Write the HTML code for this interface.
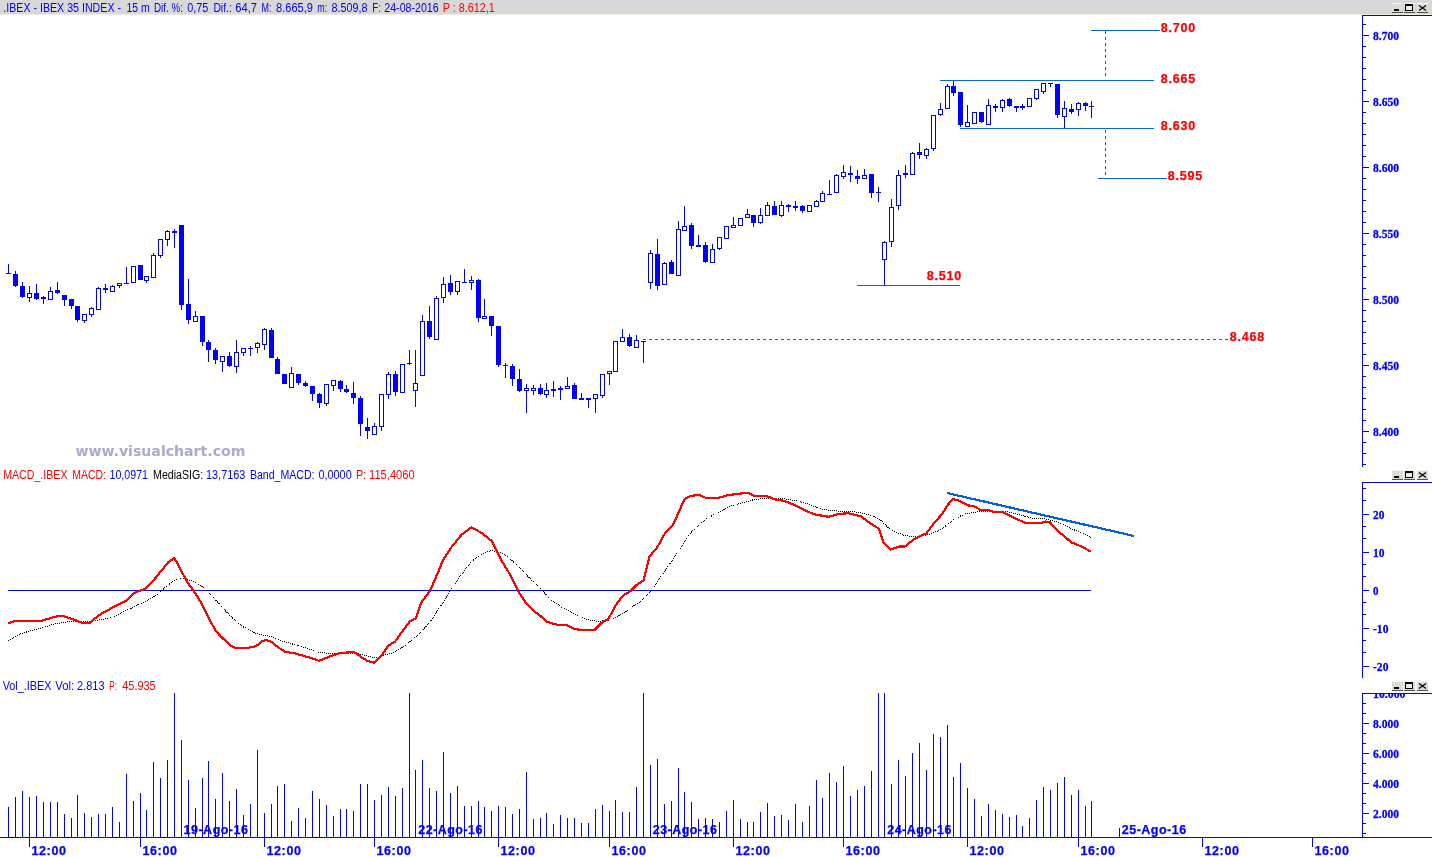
<!DOCTYPE html>
<html><head><meta charset="utf-8"><title>IBEX 35 chart</title>
<style>
html,body{margin:0;padding:0;background:#fff;overflow:hidden}
svg{display:block}
text{white-space:pre}
.s{font:12px "Liberation Sans",Arial,sans-serif}
.a{font:bold 13.5px "Liberation Serif","Times New Roman",serif;fill:#0000ff;stroke:#0000ff;stroke-width:.3px}
.b{font:bold 12.5px "Liberation Sans",Arial,sans-serif;fill:#0000ff;stroke:#0000ff;stroke-width:.25px}
.r{font:bold 12.5px "Liberation Sans",Arial,sans-serif;fill:#ff0000;stroke:#ff0000;stroke-width:.25px}
.w{font:bold 14px "DejaVu Sans",Verdana,sans-serif;fill:#a9a9d1}
</style></head><body>
<svg width="1432" height="857" viewBox="0 0 1432 857">
<defs><clipPath id="cv"><rect x="1363" y="694" width="69" height="20"/></clipPath></defs>
<rect width="1432" height="857" fill="#fff"/>
<g shape-rendering="crispEdges">
<rect x="0" y="0" width="1432" height="14" fill="#d8d8d8"/>
<rect x="0" y="14" width="1432" height="1" fill="#ececdf"/>
<rect x="1392" y="3" width="11" height="10" fill="#dcdcd6"/>
<rect x="1392" y="3" width="11" height="1" fill="#f4f4f0"/>
<rect x="1392" y="12" width="11" height="1" fill="#505050"/>
<rect x="1404" y="3" width="11" height="10" fill="#dcdcd6"/>
<rect x="1404" y="3" width="11" height="1" fill="#f4f4f0"/>
<rect x="1404" y="12" width="11" height="1" fill="#505050"/>
<rect x="1417" y="3" width="11" height="10" fill="#dcdcd6"/>
<rect x="1417" y="3" width="11" height="1" fill="#f4f4f0"/>
<rect x="1417" y="12" width="11" height="1" fill="#505050"/>
<rect x="1394" y="9" width="5" height="2" fill="#000"/>
<rect x="1405" y="4" width="8" height="7" fill="#000"/>
<rect x="1406" y="6" width="6" height="4" fill="#ecece6"/>
<path d="M1419 5.5 L1426 10.5 M1426 5.5 L1419 10.5" stroke="#000" stroke-width="1.2" fill="none" shape-rendering="geometricPrecision"/>
<rect x="1392" y="470" width="11" height="10" fill="#dcdcd6"/>
<rect x="1392" y="470" width="11" height="1" fill="#f4f4f0"/>
<rect x="1392" y="479" width="11" height="1" fill="#505050"/>
<rect x="1404" y="470" width="11" height="10" fill="#dcdcd6"/>
<rect x="1404" y="470" width="11" height="1" fill="#f4f4f0"/>
<rect x="1404" y="479" width="11" height="1" fill="#505050"/>
<rect x="1417" y="470" width="11" height="10" fill="#dcdcd6"/>
<rect x="1417" y="470" width="11" height="1" fill="#f4f4f0"/>
<rect x="1417" y="479" width="11" height="1" fill="#505050"/>
<rect x="1394" y="476" width="5" height="2" fill="#000"/>
<rect x="1405" y="471" width="8" height="7" fill="#000"/>
<rect x="1406" y="473" width="6" height="4" fill="#ecece6"/>
<path d="M1419 472.5 L1426 477.5 M1426 472.5 L1419 477.5" stroke="#000" stroke-width="1.2" fill="none" shape-rendering="geometricPrecision"/>
<rect x="1392" y="681" width="11" height="10" fill="#dcdcd6"/>
<rect x="1392" y="681" width="11" height="1" fill="#f4f4f0"/>
<rect x="1392" y="690" width="11" height="1" fill="#505050"/>
<rect x="1404" y="681" width="11" height="10" fill="#dcdcd6"/>
<rect x="1404" y="681" width="11" height="1" fill="#f4f4f0"/>
<rect x="1404" y="690" width="11" height="1" fill="#505050"/>
<rect x="1417" y="681" width="11" height="10" fill="#dcdcd6"/>
<rect x="1417" y="681" width="11" height="1" fill="#f4f4f0"/>
<rect x="1417" y="690" width="11" height="1" fill="#505050"/>
<rect x="1394" y="687" width="5" height="2" fill="#000"/>
<rect x="1405" y="682" width="8" height="7" fill="#000"/>
<rect x="1406" y="684" width="6" height="4" fill="#ecece6"/>
<path d="M1419 683.5 L1426 688.5 M1426 683.5 L1419 688.5" stroke="#000" stroke-width="1.2" fill="none" shape-rendering="geometricPrecision"/>
<rect x="1362" y="15" width="70" height="1" fill="#0000ff"/>
<rect x="1362" y="15" width="1" height="452" fill="#0000ff"/>
<rect x="1363" y="24" width="3" height="1" fill="#0000ff"/>
<rect x="1363" y="35" width="6" height="1" fill="#0000ff"/>
<rect x="1363" y="46" width="3" height="1" fill="#0000ff"/>
<rect x="1363" y="57" width="3" height="1" fill="#0000ff"/>
<rect x="1363" y="68" width="3" height="1" fill="#0000ff"/>
<rect x="1363" y="79" width="3" height="1" fill="#0000ff"/>
<rect x="1363" y="90" width="3" height="1" fill="#0000ff"/>
<rect x="1363" y="101" width="6" height="1" fill="#0000ff"/>
<rect x="1363" y="112" width="3" height="1" fill="#0000ff"/>
<rect x="1363" y="123" width="3" height="1" fill="#0000ff"/>
<rect x="1363" y="134" width="3" height="1" fill="#0000ff"/>
<rect x="1363" y="145" width="3" height="1" fill="#0000ff"/>
<rect x="1363" y="156" width="3" height="1" fill="#0000ff"/>
<rect x="1363" y="167" width="6" height="1" fill="#0000ff"/>
<rect x="1363" y="178" width="3" height="1" fill="#0000ff"/>
<rect x="1363" y="189" width="3" height="1" fill="#0000ff"/>
<rect x="1363" y="200" width="3" height="1" fill="#0000ff"/>
<rect x="1363" y="211" width="3" height="1" fill="#0000ff"/>
<rect x="1363" y="222" width="3" height="1" fill="#0000ff"/>
<rect x="1363" y="233" width="6" height="1" fill="#0000ff"/>
<rect x="1363" y="244" width="3" height="1" fill="#0000ff"/>
<rect x="1363" y="255" width="3" height="1" fill="#0000ff"/>
<rect x="1363" y="266" width="3" height="1" fill="#0000ff"/>
<rect x="1363" y="277" width="3" height="1" fill="#0000ff"/>
<rect x="1363" y="288" width="3" height="1" fill="#0000ff"/>
<rect x="1363" y="299" width="6" height="1" fill="#0000ff"/>
<rect x="1363" y="310" width="3" height="1" fill="#0000ff"/>
<rect x="1363" y="321" width="3" height="1" fill="#0000ff"/>
<rect x="1363" y="332" width="3" height="1" fill="#0000ff"/>
<rect x="1363" y="343" width="3" height="1" fill="#0000ff"/>
<rect x="1363" y="354" width="3" height="1" fill="#0000ff"/>
<rect x="1363" y="365" width="6" height="1" fill="#0000ff"/>
<rect x="1363" y="376" width="3" height="1" fill="#0000ff"/>
<rect x="1363" y="387" width="3" height="1" fill="#0000ff"/>
<rect x="1363" y="398" width="3" height="1" fill="#0000ff"/>
<rect x="1363" y="409" width="3" height="1" fill="#0000ff"/>
<rect x="1363" y="420" width="3" height="1" fill="#0000ff"/>
<rect x="1363" y="431" width="6" height="1" fill="#0000ff"/>
<rect x="1363" y="442" width="3" height="1" fill="#0000ff"/>
<rect x="1363" y="453" width="3" height="1" fill="#0000ff"/>
<rect x="1363" y="464" width="3" height="1" fill="#0000ff"/>
<rect x="1362" y="482" width="70" height="1" fill="#0000ff"/>
<rect x="1362" y="482" width="1" height="196" fill="#0000ff"/>
<rect x="1363" y="488" width="3" height="1" fill="#0000ff"/>
<rect x="1363" y="500" width="3" height="1" fill="#0000ff"/>
<rect x="1363" y="514" width="6" height="1" fill="#0000ff"/>
<rect x="1363" y="526" width="3" height="1" fill="#0000ff"/>
<rect x="1363" y="538" width="3" height="1" fill="#0000ff"/>
<rect x="1363" y="552" width="6" height="1" fill="#0000ff"/>
<rect x="1363" y="564" width="3" height="1" fill="#0000ff"/>
<rect x="1363" y="576" width="3" height="1" fill="#0000ff"/>
<rect x="1363" y="590" width="6" height="1" fill="#0000ff"/>
<rect x="1363" y="602" width="3" height="1" fill="#0000ff"/>
<rect x="1363" y="614" width="3" height="1" fill="#0000ff"/>
<rect x="1363" y="628" width="6" height="1" fill="#0000ff"/>
<rect x="1363" y="640" width="3" height="1" fill="#0000ff"/>
<rect x="1363" y="652" width="3" height="1" fill="#0000ff"/>
<rect x="1363" y="666" width="6" height="1" fill="#0000ff"/>
<rect x="1362" y="693" width="70" height="1" fill="#0000ff"/>
<rect x="1362" y="693" width="1" height="145" fill="#0000ff"/>
<rect x="1363" y="703" width="3" height="1" fill="#0000ff"/>
<rect x="1363" y="713" width="3" height="1" fill="#0000ff"/>
<rect x="1363" y="723" width="6" height="1" fill="#0000ff"/>
<rect x="1363" y="733" width="3" height="1" fill="#0000ff"/>
<rect x="1363" y="743" width="3" height="1" fill="#0000ff"/>
<rect x="1363" y="753" width="6" height="1" fill="#0000ff"/>
<rect x="1363" y="763" width="3" height="1" fill="#0000ff"/>
<rect x="1363" y="773" width="3" height="1" fill="#0000ff"/>
<rect x="1363" y="783" width="6" height="1" fill="#0000ff"/>
<rect x="1363" y="793" width="3" height="1" fill="#0000ff"/>
<rect x="1363" y="803" width="3" height="1" fill="#0000ff"/>
<rect x="1363" y="813" width="6" height="1" fill="#0000ff"/>
<rect x="1363" y="823" width="3" height="1" fill="#0000ff"/>
<rect x="1363" y="833" width="3" height="1" fill="#0000ff"/>
<rect x="1363" y="693" width="6" height="1" fill="#0000ff"/>
<rect x="0" y="837" width="1432" height="1" fill="#0000ff"/>
<rect x="29" y="838" width="1" height="9" fill="#0000ff"/>
<rect x="140" y="838" width="1" height="9" fill="#0000ff"/>
<rect x="264" y="838" width="1" height="9" fill="#0000ff"/>
<rect x="374" y="838" width="1" height="9" fill="#0000ff"/>
<rect x="498" y="838" width="1" height="9" fill="#0000ff"/>
<rect x="609" y="838" width="1" height="9" fill="#0000ff"/>
<rect x="733" y="838" width="1" height="9" fill="#0000ff"/>
<rect x="843" y="838" width="1" height="9" fill="#0000ff"/>
<rect x="967" y="838" width="1" height="9" fill="#0000ff"/>
<rect x="1078" y="838" width="1" height="9" fill="#0000ff"/>
<rect x="1202" y="838" width="1" height="9" fill="#0000ff"/>
<rect x="1312" y="838" width="1" height="9" fill="#0000ff"/>
<rect x="1119" y="828" width="1" height="9" fill="#0000ff"/>
<rect x="8" y="807" width="1" height="30" fill="#0000ff"/>
<rect x="15" y="797" width="1" height="40" fill="#0000ff"/>
<rect x="22" y="791" width="1" height="46" fill="#0000ff"/>
<rect x="29" y="797" width="1" height="40" fill="#0000ff"/>
<rect x="36" y="796" width="1" height="41" fill="#0000ff"/>
<rect x="43" y="802" width="1" height="35" fill="#0000ff"/>
<rect x="50" y="802" width="1" height="35" fill="#0000ff"/>
<rect x="57" y="802" width="1" height="35" fill="#0000ff"/>
<rect x="64" y="814" width="1" height="23" fill="#0000ff"/>
<rect x="71" y="818" width="1" height="19" fill="#0000ff"/>
<rect x="77" y="795" width="1" height="42" fill="#0000ff"/>
<rect x="84" y="813" width="1" height="24" fill="#0000ff"/>
<rect x="91" y="817" width="1" height="20" fill="#0000ff"/>
<rect x="98" y="814" width="1" height="23" fill="#0000ff"/>
<rect x="105" y="814" width="1" height="23" fill="#0000ff"/>
<rect x="112" y="807" width="1" height="30" fill="#0000ff"/>
<rect x="119" y="822" width="1" height="15" fill="#0000ff"/>
<rect x="126" y="774" width="1" height="63" fill="#0000ff"/>
<rect x="133" y="801" width="1" height="36" fill="#0000ff"/>
<rect x="140" y="793" width="1" height="44" fill="#0000ff"/>
<rect x="146" y="810" width="1" height="27" fill="#0000ff"/>
<rect x="153" y="762" width="1" height="75" fill="#0000ff"/>
<rect x="160" y="778" width="1" height="59" fill="#0000ff"/>
<rect x="167" y="760" width="1" height="77" fill="#0000ff"/>
<rect x="174" y="693" width="1" height="144" fill="#0000ff"/>
<rect x="181" y="740" width="1" height="97" fill="#0000ff"/>
<rect x="188" y="780" width="1" height="57" fill="#0000ff"/>
<rect x="195" y="808" width="1" height="29" fill="#0000ff"/>
<rect x="202" y="778" width="1" height="59" fill="#0000ff"/>
<rect x="208" y="761" width="1" height="76" fill="#0000ff"/>
<rect x="215" y="799" width="1" height="38" fill="#0000ff"/>
<rect x="222" y="773" width="1" height="64" fill="#0000ff"/>
<rect x="229" y="801" width="1" height="36" fill="#0000ff"/>
<rect x="236" y="789" width="1" height="48" fill="#0000ff"/>
<rect x="243" y="815" width="1" height="22" fill="#0000ff"/>
<rect x="250" y="804" width="1" height="33" fill="#0000ff"/>
<rect x="257" y="750" width="1" height="87" fill="#0000ff"/>
<rect x="264" y="813" width="1" height="24" fill="#0000ff"/>
<rect x="271" y="804" width="1" height="33" fill="#0000ff"/>
<rect x="277" y="786" width="1" height="51" fill="#0000ff"/>
<rect x="284" y="784" width="1" height="53" fill="#0000ff"/>
<rect x="291" y="821" width="1" height="16" fill="#0000ff"/>
<rect x="298" y="808" width="1" height="29" fill="#0000ff"/>
<rect x="305" y="818" width="1" height="19" fill="#0000ff"/>
<rect x="312" y="791" width="1" height="46" fill="#0000ff"/>
<rect x="319" y="799" width="1" height="38" fill="#0000ff"/>
<rect x="326" y="805" width="1" height="32" fill="#0000ff"/>
<rect x="333" y="816" width="1" height="21" fill="#0000ff"/>
<rect x="340" y="809" width="1" height="28" fill="#0000ff"/>
<rect x="346" y="809" width="1" height="28" fill="#0000ff"/>
<rect x="353" y="811" width="1" height="26" fill="#0000ff"/>
<rect x="360" y="784" width="1" height="53" fill="#0000ff"/>
<rect x="367" y="784" width="1" height="53" fill="#0000ff"/>
<rect x="374" y="800" width="1" height="37" fill="#0000ff"/>
<rect x="381" y="795" width="1" height="42" fill="#0000ff"/>
<rect x="388" y="787" width="1" height="50" fill="#0000ff"/>
<rect x="395" y="796" width="1" height="41" fill="#0000ff"/>
<rect x="402" y="788" width="1" height="49" fill="#0000ff"/>
<rect x="409" y="693" width="1" height="144" fill="#0000ff"/>
<rect x="415" y="770" width="1" height="67" fill="#0000ff"/>
<rect x="422" y="760" width="1" height="77" fill="#0000ff"/>
<rect x="429" y="788" width="1" height="49" fill="#0000ff"/>
<rect x="436" y="791" width="1" height="46" fill="#0000ff"/>
<rect x="443" y="752" width="1" height="85" fill="#0000ff"/>
<rect x="450" y="793" width="1" height="44" fill="#0000ff"/>
<rect x="457" y="786" width="1" height="51" fill="#0000ff"/>
<rect x="464" y="806" width="1" height="31" fill="#0000ff"/>
<rect x="471" y="806" width="1" height="31" fill="#0000ff"/>
<rect x="478" y="801" width="1" height="36" fill="#0000ff"/>
<rect x="484" y="807" width="1" height="30" fill="#0000ff"/>
<rect x="491" y="811" width="1" height="26" fill="#0000ff"/>
<rect x="498" y="806" width="1" height="31" fill="#0000ff"/>
<rect x="505" y="807" width="1" height="30" fill="#0000ff"/>
<rect x="512" y="814" width="1" height="23" fill="#0000ff"/>
<rect x="519" y="809" width="1" height="28" fill="#0000ff"/>
<rect x="526" y="772" width="1" height="65" fill="#0000ff"/>
<rect x="533" y="819" width="1" height="18" fill="#0000ff"/>
<rect x="540" y="818" width="1" height="19" fill="#0000ff"/>
<rect x="546" y="813" width="1" height="24" fill="#0000ff"/>
<rect x="553" y="824" width="1" height="13" fill="#0000ff"/>
<rect x="560" y="815" width="1" height="22" fill="#0000ff"/>
<rect x="567" y="818" width="1" height="19" fill="#0000ff"/>
<rect x="574" y="818" width="1" height="19" fill="#0000ff"/>
<rect x="581" y="823" width="1" height="14" fill="#0000ff"/>
<rect x="588" y="823" width="1" height="14" fill="#0000ff"/>
<rect x="595" y="809" width="1" height="28" fill="#0000ff"/>
<rect x="602" y="805" width="1" height="32" fill="#0000ff"/>
<rect x="609" y="811" width="1" height="26" fill="#0000ff"/>
<rect x="615" y="800" width="1" height="37" fill="#0000ff"/>
<rect x="622" y="812" width="1" height="25" fill="#0000ff"/>
<rect x="629" y="812" width="1" height="25" fill="#0000ff"/>
<rect x="636" y="787" width="1" height="50" fill="#0000ff"/>
<rect x="643" y="693" width="1" height="144" fill="#0000ff"/>
<rect x="650" y="765" width="1" height="72" fill="#0000ff"/>
<rect x="657" y="759" width="1" height="78" fill="#0000ff"/>
<rect x="664" y="804" width="1" height="33" fill="#0000ff"/>
<rect x="671" y="801" width="1" height="36" fill="#0000ff"/>
<rect x="678" y="768" width="1" height="69" fill="#0000ff"/>
<rect x="684" y="792" width="1" height="45" fill="#0000ff"/>
<rect x="691" y="802" width="1" height="35" fill="#0000ff"/>
<rect x="698" y="819" width="1" height="18" fill="#0000ff"/>
<rect x="705" y="818" width="1" height="19" fill="#0000ff"/>
<rect x="712" y="819" width="1" height="18" fill="#0000ff"/>
<rect x="719" y="822" width="1" height="15" fill="#0000ff"/>
<rect x="726" y="811" width="1" height="26" fill="#0000ff"/>
<rect x="733" y="800" width="1" height="37" fill="#0000ff"/>
<rect x="740" y="819" width="1" height="18" fill="#0000ff"/>
<rect x="747" y="822" width="1" height="15" fill="#0000ff"/>
<rect x="753" y="822" width="1" height="15" fill="#0000ff"/>
<rect x="760" y="812" width="1" height="25" fill="#0000ff"/>
<rect x="767" y="803" width="1" height="34" fill="#0000ff"/>
<rect x="774" y="816" width="1" height="21" fill="#0000ff"/>
<rect x="781" y="815" width="1" height="22" fill="#0000ff"/>
<rect x="788" y="820" width="1" height="17" fill="#0000ff"/>
<rect x="795" y="804" width="1" height="33" fill="#0000ff"/>
<rect x="802" y="822" width="1" height="15" fill="#0000ff"/>
<rect x="809" y="806" width="1" height="31" fill="#0000ff"/>
<rect x="816" y="780" width="1" height="57" fill="#0000ff"/>
<rect x="822" y="798" width="1" height="39" fill="#0000ff"/>
<rect x="829" y="773" width="1" height="64" fill="#0000ff"/>
<rect x="836" y="782" width="1" height="55" fill="#0000ff"/>
<rect x="843" y="766" width="1" height="71" fill="#0000ff"/>
<rect x="850" y="796" width="1" height="41" fill="#0000ff"/>
<rect x="857" y="790" width="1" height="47" fill="#0000ff"/>
<rect x="864" y="786" width="1" height="51" fill="#0000ff"/>
<rect x="871" y="771" width="1" height="66" fill="#0000ff"/>
<rect x="878" y="693" width="1" height="144" fill="#0000ff"/>
<rect x="884" y="693" width="1" height="144" fill="#0000ff"/>
<rect x="891" y="784" width="1" height="53" fill="#0000ff"/>
<rect x="898" y="760" width="1" height="77" fill="#0000ff"/>
<rect x="905" y="776" width="1" height="61" fill="#0000ff"/>
<rect x="912" y="753" width="1" height="84" fill="#0000ff"/>
<rect x="919" y="743" width="1" height="94" fill="#0000ff"/>
<rect x="926" y="770" width="1" height="67" fill="#0000ff"/>
<rect x="933" y="734" width="1" height="103" fill="#0000ff"/>
<rect x="940" y="737" width="1" height="100" fill="#0000ff"/>
<rect x="947" y="725" width="1" height="112" fill="#0000ff"/>
<rect x="953" y="777" width="1" height="60" fill="#0000ff"/>
<rect x="960" y="763" width="1" height="74" fill="#0000ff"/>
<rect x="967" y="788" width="1" height="49" fill="#0000ff"/>
<rect x="974" y="799" width="1" height="38" fill="#0000ff"/>
<rect x="981" y="816" width="1" height="21" fill="#0000ff"/>
<rect x="988" y="804" width="1" height="33" fill="#0000ff"/>
<rect x="995" y="810" width="1" height="27" fill="#0000ff"/>
<rect x="1002" y="814" width="1" height="23" fill="#0000ff"/>
<rect x="1009" y="817" width="1" height="20" fill="#0000ff"/>
<rect x="1016" y="815" width="1" height="22" fill="#0000ff"/>
<rect x="1022" y="826" width="1" height="11" fill="#0000ff"/>
<rect x="1029" y="818" width="1" height="19" fill="#0000ff"/>
<rect x="1036" y="800" width="1" height="37" fill="#0000ff"/>
<rect x="1043" y="787" width="1" height="50" fill="#0000ff"/>
<rect x="1050" y="790" width="1" height="47" fill="#0000ff"/>
<rect x="1057" y="783" width="1" height="54" fill="#0000ff"/>
<rect x="1064" y="777" width="1" height="60" fill="#0000ff"/>
<rect x="1071" y="795" width="1" height="42" fill="#0000ff"/>
<rect x="1078" y="790" width="1" height="47" fill="#0000ff"/>
<rect x="1085" y="806" width="1" height="31" fill="#0000ff"/>
<rect x="1091" y="801" width="1" height="36" fill="#0000ff"/>
<rect x="6" y="273" width="5" height="1" fill="#0000ff"/>
<rect x="8" y="264" width="1" height="9" fill="#0000ff"/>
<rect x="13" y="274" width="5" height="12" fill="#0000ff"/>
<rect x="15" y="271" width="1" height="3" fill="#0000ff"/>
<rect x="15" y="286" width="1" height="1" fill="#0000ff"/>
<rect x="20" y="286" width="5" height="11" fill="#0000ff"/>
<rect x="22" y="282" width="1" height="4" fill="#0000ff"/>
<rect x="22" y="297" width="1" height="1" fill="#0000ff"/>
<rect x="27" y="293" width="5" height="5" fill="#0000ff"/>
<rect x="28" y="294" width="3" height="3" fill="#fff"/>
<rect x="29" y="286" width="1" height="7" fill="#0000ff"/>
<rect x="29" y="298" width="1" height="4" fill="#0000ff"/>
<rect x="34" y="293" width="5" height="6" fill="#0000ff"/>
<rect x="36" y="284" width="1" height="9" fill="#0000ff"/>
<rect x="36" y="299" width="1" height="1" fill="#0000ff"/>
<rect x="41" y="297" width="5" height="2" fill="#0000ff"/>
<rect x="43" y="296" width="1" height="1" fill="#0000ff"/>
<rect x="43" y="299" width="1" height="5" fill="#0000ff"/>
<rect x="48" y="291" width="5" height="9" fill="#0000ff"/>
<rect x="49" y="292" width="3" height="7" fill="#fff"/>
<rect x="50" y="287" width="1" height="4" fill="#0000ff"/>
<rect x="55" y="290" width="5" height="3" fill="#0000ff"/>
<rect x="57" y="282" width="1" height="8" fill="#0000ff"/>
<rect x="57" y="293" width="1" height="1" fill="#0000ff"/>
<rect x="62" y="295" width="5" height="5" fill="#0000ff"/>
<rect x="64" y="300" width="1" height="6" fill="#0000ff"/>
<rect x="69" y="299" width="5" height="7" fill="#0000ff"/>
<rect x="71" y="306" width="1" height="3" fill="#0000ff"/>
<rect x="75" y="306" width="5" height="14" fill="#0000ff"/>
<rect x="77" y="320" width="1" height="2" fill="#0000ff"/>
<rect x="82" y="314" width="5" height="7" fill="#0000ff"/>
<rect x="83" y="315" width="3" height="5" fill="#fff"/>
<rect x="84" y="321" width="1" height="2" fill="#0000ff"/>
<rect x="89" y="308" width="5" height="7" fill="#0000ff"/>
<rect x="90" y="309" width="3" height="5" fill="#fff"/>
<rect x="91" y="307" width="1" height="1" fill="#0000ff"/>
<rect x="91" y="315" width="1" height="2" fill="#0000ff"/>
<rect x="96" y="288" width="5" height="22" fill="#0000ff"/>
<rect x="97" y="289" width="3" height="20" fill="#fff"/>
<rect x="98" y="287" width="1" height="1" fill="#0000ff"/>
<rect x="103" y="288" width="5" height="2" fill="#0000ff"/>
<rect x="105" y="284" width="1" height="4" fill="#0000ff"/>
<rect x="105" y="290" width="1" height="3" fill="#0000ff"/>
<rect x="110" y="286" width="5" height="6" fill="#0000ff"/>
<rect x="111" y="287" width="3" height="4" fill="#fff"/>
<rect x="112" y="285" width="1" height="1" fill="#0000ff"/>
<rect x="117" y="283" width="5" height="3" fill="#0000ff"/>
<rect x="118" y="284" width="3" height="1" fill="#fff"/>
<rect x="119" y="286" width="1" height="2" fill="#0000ff"/>
<rect x="124" y="283" width="5" height="1" fill="#0000ff"/>
<rect x="126" y="267" width="1" height="16" fill="#0000ff"/>
<rect x="131" y="266" width="5" height="17" fill="#0000ff"/>
<rect x="132" y="267" width="3" height="15" fill="#fff"/>
<rect x="138" y="265" width="5" height="15" fill="#0000ff"/>
<rect x="144" y="276" width="5" height="5" fill="#0000ff"/>
<rect x="145" y="277" width="3" height="3" fill="#fff"/>
<rect x="146" y="281" width="1" height="2" fill="#0000ff"/>
<rect x="151" y="255" width="5" height="23" fill="#0000ff"/>
<rect x="152" y="256" width="3" height="21" fill="#fff"/>
<rect x="153" y="253" width="1" height="2" fill="#0000ff"/>
<rect x="158" y="239" width="5" height="17" fill="#0000ff"/>
<rect x="159" y="240" width="3" height="15" fill="#fff"/>
<rect x="160" y="256" width="1" height="2" fill="#0000ff"/>
<rect x="165" y="231" width="5" height="9" fill="#0000ff"/>
<rect x="166" y="232" width="3" height="7" fill="#fff"/>
<rect x="167" y="230" width="1" height="1" fill="#0000ff"/>
<rect x="167" y="240" width="1" height="6" fill="#0000ff"/>
<rect x="172" y="231" width="5" height="2" fill="#0000ff"/>
<rect x="174" y="229" width="1" height="2" fill="#0000ff"/>
<rect x="174" y="233" width="1" height="15" fill="#0000ff"/>
<rect x="179" y="225" width="5" height="80" fill="#0000ff"/>
<rect x="181" y="305" width="1" height="5" fill="#0000ff"/>
<rect x="186" y="304" width="5" height="16" fill="#0000ff"/>
<rect x="188" y="279" width="1" height="25" fill="#0000ff"/>
<rect x="188" y="320" width="1" height="4" fill="#0000ff"/>
<rect x="193" y="316" width="5" height="6" fill="#0000ff"/>
<rect x="194" y="317" width="3" height="4" fill="#fff"/>
<rect x="195" y="311" width="1" height="5" fill="#0000ff"/>
<rect x="200" y="316" width="5" height="26" fill="#0000ff"/>
<rect x="202" y="342" width="1" height="4" fill="#0000ff"/>
<rect x="206" y="342" width="5" height="8" fill="#0000ff"/>
<rect x="208" y="340" width="1" height="2" fill="#0000ff"/>
<rect x="208" y="350" width="1" height="12" fill="#0000ff"/>
<rect x="213" y="350" width="5" height="10" fill="#0000ff"/>
<rect x="215" y="348" width="1" height="2" fill="#0000ff"/>
<rect x="215" y="360" width="1" height="4" fill="#0000ff"/>
<rect x="220" y="356" width="5" height="6" fill="#0000ff"/>
<rect x="221" y="357" width="3" height="4" fill="#fff"/>
<rect x="222" y="362" width="1" height="10" fill="#0000ff"/>
<rect x="227" y="356" width="5" height="10" fill="#0000ff"/>
<rect x="229" y="352" width="1" height="4" fill="#0000ff"/>
<rect x="229" y="366" width="1" height="1" fill="#0000ff"/>
<rect x="234" y="352" width="5" height="15" fill="#0000ff"/>
<rect x="235" y="353" width="3" height="13" fill="#fff"/>
<rect x="236" y="340" width="1" height="12" fill="#0000ff"/>
<rect x="236" y="367" width="1" height="6" fill="#0000ff"/>
<rect x="241" y="348" width="5" height="5" fill="#0000ff"/>
<rect x="242" y="349" width="3" height="3" fill="#fff"/>
<rect x="243" y="353" width="1" height="3" fill="#0000ff"/>
<rect x="248" y="348" width="5" height="1" fill="#0000ff"/>
<rect x="250" y="346" width="1" height="2" fill="#0000ff"/>
<rect x="250" y="349" width="1" height="7" fill="#0000ff"/>
<rect x="255" y="343" width="5" height="5" fill="#0000ff"/>
<rect x="256" y="344" width="3" height="3" fill="#fff"/>
<rect x="257" y="342" width="1" height="1" fill="#0000ff"/>
<rect x="257" y="348" width="1" height="5" fill="#0000ff"/>
<rect x="262" y="329" width="5" height="16" fill="#0000ff"/>
<rect x="263" y="330" width="3" height="14" fill="#fff"/>
<rect x="264" y="328" width="1" height="1" fill="#0000ff"/>
<rect x="264" y="345" width="1" height="5" fill="#0000ff"/>
<rect x="269" y="330" width="5" height="28" fill="#0000ff"/>
<rect x="271" y="328" width="1" height="2" fill="#0000ff"/>
<rect x="275" y="359" width="5" height="15" fill="#0000ff"/>
<rect x="277" y="357" width="1" height="2" fill="#0000ff"/>
<rect x="282" y="374" width="5" height="10" fill="#0000ff"/>
<rect x="289" y="373" width="5" height="15" fill="#0000ff"/>
<rect x="290" y="374" width="3" height="13" fill="#fff"/>
<rect x="291" y="367" width="1" height="6" fill="#0000ff"/>
<rect x="296" y="374" width="5" height="9" fill="#0000ff"/>
<rect x="298" y="383" width="1" height="2" fill="#0000ff"/>
<rect x="303" y="383" width="5" height="3" fill="#0000ff"/>
<rect x="305" y="381" width="1" height="2" fill="#0000ff"/>
<rect x="305" y="386" width="1" height="1" fill="#0000ff"/>
<rect x="310" y="386" width="5" height="8" fill="#0000ff"/>
<rect x="312" y="394" width="1" height="7" fill="#0000ff"/>
<rect x="317" y="394" width="5" height="9" fill="#0000ff"/>
<rect x="319" y="393" width="1" height="1" fill="#0000ff"/>
<rect x="319" y="403" width="1" height="5" fill="#0000ff"/>
<rect x="324" y="384" width="5" height="20" fill="#0000ff"/>
<rect x="325" y="385" width="3" height="18" fill="#fff"/>
<rect x="326" y="404" width="1" height="2" fill="#0000ff"/>
<rect x="331" y="380" width="5" height="6" fill="#0000ff"/>
<rect x="332" y="381" width="3" height="4" fill="#fff"/>
<rect x="333" y="386" width="1" height="5" fill="#0000ff"/>
<rect x="338" y="381" width="5" height="8" fill="#0000ff"/>
<rect x="340" y="380" width="1" height="1" fill="#0000ff"/>
<rect x="340" y="389" width="1" height="3" fill="#0000ff"/>
<rect x="344" y="389" width="5" height="3" fill="#0000ff"/>
<rect x="346" y="385" width="1" height="4" fill="#0000ff"/>
<rect x="346" y="392" width="1" height="1" fill="#0000ff"/>
<rect x="351" y="393" width="5" height="5" fill="#0000ff"/>
<rect x="353" y="382" width="1" height="11" fill="#0000ff"/>
<rect x="353" y="398" width="1" height="6" fill="#0000ff"/>
<rect x="358" y="398" width="5" height="26" fill="#0000ff"/>
<rect x="360" y="396" width="1" height="2" fill="#0000ff"/>
<rect x="360" y="424" width="1" height="12" fill="#0000ff"/>
<rect x="365" y="427" width="5" height="4" fill="#0000ff"/>
<rect x="367" y="418" width="1" height="9" fill="#0000ff"/>
<rect x="367" y="431" width="1" height="8" fill="#0000ff"/>
<rect x="372" y="426" width="5" height="9" fill="#0000ff"/>
<rect x="373" y="427" width="3" height="7" fill="#fff"/>
<rect x="374" y="423" width="1" height="3" fill="#0000ff"/>
<rect x="379" y="394" width="5" height="33" fill="#0000ff"/>
<rect x="380" y="395" width="3" height="31" fill="#fff"/>
<rect x="381" y="427" width="1" height="4" fill="#0000ff"/>
<rect x="386" y="374" width="5" height="21" fill="#0000ff"/>
<rect x="387" y="375" width="3" height="19" fill="#fff"/>
<rect x="388" y="372" width="1" height="2" fill="#0000ff"/>
<rect x="388" y="395" width="1" height="4" fill="#0000ff"/>
<rect x="393" y="374" width="5" height="18" fill="#0000ff"/>
<rect x="395" y="371" width="1" height="3" fill="#0000ff"/>
<rect x="395" y="392" width="1" height="4" fill="#0000ff"/>
<rect x="400" y="364" width="5" height="29" fill="#0000ff"/>
<rect x="401" y="365" width="3" height="27" fill="#fff"/>
<rect x="407" y="363" width="5" height="1" fill="#0000ff"/>
<rect x="409" y="350" width="1" height="13" fill="#0000ff"/>
<rect x="409" y="364" width="1" height="1" fill="#0000ff"/>
<rect x="413" y="383" width="5" height="8" fill="#0000ff"/>
<rect x="414" y="384" width="3" height="6" fill="#fff"/>
<rect x="415" y="350" width="1" height="33" fill="#0000ff"/>
<rect x="415" y="391" width="1" height="16" fill="#0000ff"/>
<rect x="420" y="321" width="5" height="55" fill="#0000ff"/>
<rect x="421" y="322" width="3" height="53" fill="#fff"/>
<rect x="422" y="315" width="1" height="6" fill="#0000ff"/>
<rect x="427" y="321" width="5" height="16" fill="#0000ff"/>
<rect x="429" y="306" width="1" height="15" fill="#0000ff"/>
<rect x="429" y="337" width="1" height="2" fill="#0000ff"/>
<rect x="434" y="298" width="5" height="42" fill="#0000ff"/>
<rect x="435" y="299" width="3" height="40" fill="#fff"/>
<rect x="436" y="296" width="1" height="2" fill="#0000ff"/>
<rect x="441" y="284" width="5" height="14" fill="#0000ff"/>
<rect x="442" y="285" width="3" height="12" fill="#fff"/>
<rect x="443" y="277" width="1" height="7" fill="#0000ff"/>
<rect x="443" y="298" width="1" height="5" fill="#0000ff"/>
<rect x="448" y="283" width="5" height="9" fill="#0000ff"/>
<rect x="450" y="275" width="1" height="8" fill="#0000ff"/>
<rect x="450" y="292" width="1" height="3" fill="#0000ff"/>
<rect x="455" y="281" width="5" height="11" fill="#0000ff"/>
<rect x="456" y="282" width="3" height="9" fill="#fff"/>
<rect x="457" y="292" width="1" height="3" fill="#0000ff"/>
<rect x="462" y="282" width="5" height="1" fill="#0000ff"/>
<rect x="464" y="269" width="1" height="13" fill="#0000ff"/>
<rect x="469" y="280" width="5" height="3" fill="#0000ff"/>
<rect x="470" y="281" width="3" height="1" fill="#fff"/>
<rect x="471" y="276" width="1" height="4" fill="#0000ff"/>
<rect x="471" y="283" width="1" height="7" fill="#0000ff"/>
<rect x="476" y="280" width="5" height="38" fill="#0000ff"/>
<rect x="478" y="279" width="1" height="1" fill="#0000ff"/>
<rect x="478" y="318" width="1" height="4" fill="#0000ff"/>
<rect x="482" y="316" width="5" height="3" fill="#0000ff"/>
<rect x="483" y="317" width="3" height="1" fill="#fff"/>
<rect x="484" y="299" width="1" height="17" fill="#0000ff"/>
<rect x="489" y="316" width="5" height="10" fill="#0000ff"/>
<rect x="491" y="326" width="1" height="10" fill="#0000ff"/>
<rect x="496" y="326" width="5" height="39" fill="#0000ff"/>
<rect x="498" y="365" width="1" height="2" fill="#0000ff"/>
<rect x="503" y="365" width="5" height="1" fill="#0000ff"/>
<rect x="505" y="363" width="1" height="2" fill="#0000ff"/>
<rect x="505" y="366" width="1" height="12" fill="#0000ff"/>
<rect x="510" y="366" width="5" height="13" fill="#0000ff"/>
<rect x="512" y="364" width="1" height="2" fill="#0000ff"/>
<rect x="512" y="379" width="1" height="7" fill="#0000ff"/>
<rect x="517" y="379" width="5" height="12" fill="#0000ff"/>
<rect x="519" y="369" width="1" height="10" fill="#0000ff"/>
<rect x="519" y="391" width="1" height="1" fill="#0000ff"/>
<rect x="524" y="388" width="5" height="3" fill="#0000ff"/>
<rect x="525" y="389" width="3" height="1" fill="#fff"/>
<rect x="526" y="384" width="1" height="4" fill="#0000ff"/>
<rect x="526" y="391" width="1" height="22" fill="#0000ff"/>
<rect x="531" y="388" width="5" height="3" fill="#0000ff"/>
<rect x="532" y="389" width="3" height="1" fill="#fff"/>
<rect x="533" y="385" width="1" height="3" fill="#0000ff"/>
<rect x="533" y="391" width="1" height="4" fill="#0000ff"/>
<rect x="538" y="388" width="5" height="6" fill="#0000ff"/>
<rect x="540" y="384" width="1" height="4" fill="#0000ff"/>
<rect x="540" y="394" width="1" height="1" fill="#0000ff"/>
<rect x="544" y="390" width="5" height="5" fill="#0000ff"/>
<rect x="545" y="391" width="3" height="3" fill="#fff"/>
<rect x="546" y="383" width="1" height="7" fill="#0000ff"/>
<rect x="546" y="395" width="1" height="3" fill="#0000ff"/>
<rect x="551" y="389" width="5" height="2" fill="#0000ff"/>
<rect x="553" y="381" width="1" height="8" fill="#0000ff"/>
<rect x="553" y="391" width="1" height="6" fill="#0000ff"/>
<rect x="558" y="388" width="5" height="2" fill="#0000ff"/>
<rect x="560" y="386" width="1" height="2" fill="#0000ff"/>
<rect x="560" y="390" width="1" height="10" fill="#0000ff"/>
<rect x="565" y="386" width="5" height="3" fill="#0000ff"/>
<rect x="566" y="387" width="3" height="1" fill="#fff"/>
<rect x="567" y="377" width="1" height="9" fill="#0000ff"/>
<rect x="572" y="385" width="5" height="14" fill="#0000ff"/>
<rect x="574" y="383" width="1" height="2" fill="#0000ff"/>
<rect x="579" y="398" width="5" height="2" fill="#0000ff"/>
<rect x="581" y="393" width="1" height="5" fill="#0000ff"/>
<rect x="586" y="398" width="5" height="2" fill="#0000ff"/>
<rect x="588" y="400" width="1" height="8" fill="#0000ff"/>
<rect x="593" y="394" width="5" height="5" fill="#0000ff"/>
<rect x="594" y="395" width="3" height="3" fill="#fff"/>
<rect x="595" y="399" width="1" height="14" fill="#0000ff"/>
<rect x="600" y="374" width="5" height="22" fill="#0000ff"/>
<rect x="601" y="375" width="3" height="20" fill="#fff"/>
<rect x="602" y="396" width="1" height="2" fill="#0000ff"/>
<rect x="607" y="371" width="5" height="3" fill="#0000ff"/>
<rect x="608" y="372" width="3" height="1" fill="#fff"/>
<rect x="609" y="374" width="1" height="11" fill="#0000ff"/>
<rect x="613" y="341" width="5" height="31" fill="#0000ff"/>
<rect x="614" y="342" width="3" height="29" fill="#fff"/>
<rect x="620" y="337" width="5" height="5" fill="#0000ff"/>
<rect x="621" y="338" width="3" height="3" fill="#fff"/>
<rect x="622" y="329" width="1" height="8" fill="#0000ff"/>
<rect x="627" y="337" width="5" height="9" fill="#0000ff"/>
<rect x="629" y="334" width="1" height="3" fill="#0000ff"/>
<rect x="629" y="346" width="1" height="1" fill="#0000ff"/>
<rect x="634" y="340" width="5" height="8" fill="#0000ff"/>
<rect x="635" y="341" width="3" height="6" fill="#fff"/>
<rect x="636" y="335" width="1" height="5" fill="#0000ff"/>
<rect x="641" y="341" width="5" height="1" fill="#0000ff"/>
<rect x="643" y="342" width="1" height="21" fill="#0000ff"/>
<rect x="648" y="253" width="5" height="30" fill="#0000ff"/>
<rect x="649" y="254" width="3" height="28" fill="#fff"/>
<rect x="650" y="250" width="1" height="3" fill="#0000ff"/>
<rect x="650" y="283" width="1" height="6" fill="#0000ff"/>
<rect x="655" y="254" width="5" height="32" fill="#0000ff"/>
<rect x="657" y="239" width="1" height="15" fill="#0000ff"/>
<rect x="657" y="286" width="1" height="4" fill="#0000ff"/>
<rect x="662" y="263" width="5" height="22" fill="#0000ff"/>
<rect x="663" y="264" width="3" height="20" fill="#fff"/>
<rect x="664" y="262" width="1" height="1" fill="#0000ff"/>
<rect x="669" y="262" width="5" height="12" fill="#0000ff"/>
<rect x="671" y="260" width="1" height="2" fill="#0000ff"/>
<rect x="676" y="229" width="5" height="47" fill="#0000ff"/>
<rect x="677" y="230" width="3" height="45" fill="#fff"/>
<rect x="678" y="221" width="1" height="8" fill="#0000ff"/>
<rect x="682" y="226" width="5" height="5" fill="#0000ff"/>
<rect x="683" y="227" width="3" height="3" fill="#fff"/>
<rect x="684" y="206" width="1" height="20" fill="#0000ff"/>
<rect x="689" y="225" width="5" height="21" fill="#0000ff"/>
<rect x="691" y="223" width="1" height="2" fill="#0000ff"/>
<rect x="691" y="246" width="1" height="3" fill="#0000ff"/>
<rect x="696" y="245" width="5" height="2" fill="#0000ff"/>
<rect x="698" y="235" width="1" height="10" fill="#0000ff"/>
<rect x="703" y="245" width="5" height="17" fill="#0000ff"/>
<rect x="705" y="242" width="1" height="3" fill="#0000ff"/>
<rect x="705" y="262" width="1" height="1" fill="#0000ff"/>
<rect x="710" y="249" width="5" height="14" fill="#0000ff"/>
<rect x="711" y="250" width="3" height="12" fill="#fff"/>
<rect x="712" y="244" width="1" height="5" fill="#0000ff"/>
<rect x="717" y="237" width="5" height="12" fill="#0000ff"/>
<rect x="718" y="238" width="3" height="10" fill="#fff"/>
<rect x="719" y="249" width="1" height="1" fill="#0000ff"/>
<rect x="724" y="226" width="5" height="13" fill="#0000ff"/>
<rect x="725" y="227" width="3" height="11" fill="#fff"/>
<rect x="731" y="225" width="5" height="3" fill="#0000ff"/>
<rect x="732" y="226" width="3" height="1" fill="#fff"/>
<rect x="733" y="217" width="1" height="8" fill="#0000ff"/>
<rect x="738" y="218" width="5" height="8" fill="#0000ff"/>
<rect x="739" y="219" width="3" height="6" fill="#fff"/>
<rect x="745" y="214" width="5" height="4" fill="#0000ff"/>
<rect x="746" y="215" width="3" height="2" fill="#fff"/>
<rect x="747" y="209" width="1" height="5" fill="#0000ff"/>
<rect x="751" y="215" width="5" height="8" fill="#0000ff"/>
<rect x="753" y="223" width="1" height="4" fill="#0000ff"/>
<rect x="758" y="215" width="5" height="8" fill="#0000ff"/>
<rect x="759" y="216" width="3" height="6" fill="#fff"/>
<rect x="760" y="208" width="1" height="7" fill="#0000ff"/>
<rect x="760" y="223" width="1" height="1" fill="#0000ff"/>
<rect x="765" y="205" width="5" height="11" fill="#0000ff"/>
<rect x="766" y="206" width="3" height="9" fill="#fff"/>
<rect x="767" y="202" width="1" height="3" fill="#0000ff"/>
<rect x="772" y="206" width="5" height="9" fill="#0000ff"/>
<rect x="774" y="201" width="1" height="5" fill="#0000ff"/>
<rect x="779" y="205" width="5" height="11" fill="#0000ff"/>
<rect x="780" y="206" width="3" height="9" fill="#fff"/>
<rect x="781" y="201" width="1" height="4" fill="#0000ff"/>
<rect x="781" y="216" width="1" height="1" fill="#0000ff"/>
<rect x="786" y="205" width="5" height="2" fill="#0000ff"/>
<rect x="788" y="204" width="1" height="1" fill="#0000ff"/>
<rect x="788" y="207" width="1" height="5" fill="#0000ff"/>
<rect x="793" y="206" width="5" height="2" fill="#0000ff"/>
<rect x="795" y="201" width="1" height="5" fill="#0000ff"/>
<rect x="795" y="208" width="1" height="3" fill="#0000ff"/>
<rect x="800" y="206" width="5" height="5" fill="#0000ff"/>
<rect x="802" y="205" width="1" height="1" fill="#0000ff"/>
<rect x="802" y="211" width="1" height="2" fill="#0000ff"/>
<rect x="807" y="205" width="5" height="7" fill="#0000ff"/>
<rect x="808" y="206" width="3" height="5" fill="#fff"/>
<rect x="814" y="201" width="5" height="6" fill="#0000ff"/>
<rect x="815" y="202" width="3" height="4" fill="#fff"/>
<rect x="816" y="200" width="1" height="1" fill="#0000ff"/>
<rect x="820" y="193" width="5" height="9" fill="#0000ff"/>
<rect x="821" y="194" width="3" height="7" fill="#fff"/>
<rect x="822" y="191" width="1" height="2" fill="#0000ff"/>
<rect x="827" y="194" width="5" height="1" fill="#0000ff"/>
<rect x="829" y="180" width="1" height="14" fill="#0000ff"/>
<rect x="834" y="175" width="5" height="18" fill="#0000ff"/>
<rect x="835" y="176" width="3" height="16" fill="#fff"/>
<rect x="836" y="174" width="1" height="1" fill="#0000ff"/>
<rect x="841" y="172" width="5" height="5" fill="#0000ff"/>
<rect x="842" y="173" width="3" height="3" fill="#fff"/>
<rect x="843" y="165" width="1" height="7" fill="#0000ff"/>
<rect x="843" y="177" width="1" height="2" fill="#0000ff"/>
<rect x="848" y="173" width="5" height="2" fill="#0000ff"/>
<rect x="850" y="166" width="1" height="7" fill="#0000ff"/>
<rect x="850" y="175" width="1" height="7" fill="#0000ff"/>
<rect x="855" y="176" width="5" height="3" fill="#0000ff"/>
<rect x="857" y="170" width="1" height="6" fill="#0000ff"/>
<rect x="857" y="179" width="1" height="5" fill="#0000ff"/>
<rect x="862" y="175" width="5" height="4" fill="#0000ff"/>
<rect x="863" y="176" width="3" height="2" fill="#fff"/>
<rect x="864" y="169" width="1" height="6" fill="#0000ff"/>
<rect x="869" y="174" width="5" height="19" fill="#0000ff"/>
<rect x="871" y="193" width="1" height="5" fill="#0000ff"/>
<rect x="876" y="192" width="5" height="1" fill="#0000ff"/>
<rect x="878" y="187" width="1" height="5" fill="#0000ff"/>
<rect x="878" y="193" width="1" height="9" fill="#0000ff"/>
<rect x="882" y="242" width="5" height="18" fill="#0000ff"/>
<rect x="883" y="243" width="3" height="16" fill="#fff"/>
<rect x="884" y="241" width="1" height="1" fill="#0000ff"/>
<rect x="884" y="260" width="1" height="25" fill="#0000ff"/>
<rect x="889" y="207" width="5" height="35" fill="#0000ff"/>
<rect x="890" y="208" width="3" height="33" fill="#fff"/>
<rect x="891" y="199" width="1" height="8" fill="#0000ff"/>
<rect x="891" y="242" width="1" height="5" fill="#0000ff"/>
<rect x="896" y="175" width="5" height="31" fill="#0000ff"/>
<rect x="897" y="176" width="3" height="29" fill="#fff"/>
<rect x="898" y="170" width="1" height="5" fill="#0000ff"/>
<rect x="898" y="206" width="1" height="4" fill="#0000ff"/>
<rect x="903" y="173" width="5" height="2" fill="#0000ff"/>
<rect x="905" y="165" width="1" height="8" fill="#0000ff"/>
<rect x="905" y="175" width="1" height="3" fill="#0000ff"/>
<rect x="910" y="153" width="5" height="22" fill="#0000ff"/>
<rect x="911" y="154" width="3" height="20" fill="#fff"/>
<rect x="912" y="152" width="1" height="1" fill="#0000ff"/>
<rect x="917" y="152" width="5" height="3" fill="#0000ff"/>
<rect x="919" y="143" width="1" height="9" fill="#0000ff"/>
<rect x="919" y="155" width="1" height="4" fill="#0000ff"/>
<rect x="924" y="149" width="5" height="7" fill="#0000ff"/>
<rect x="925" y="150" width="3" height="5" fill="#fff"/>
<rect x="926" y="148" width="1" height="1" fill="#0000ff"/>
<rect x="926" y="156" width="1" height="3" fill="#0000ff"/>
<rect x="931" y="115" width="5" height="34" fill="#0000ff"/>
<rect x="932" y="116" width="3" height="32" fill="#fff"/>
<rect x="933" y="149" width="1" height="2" fill="#0000ff"/>
<rect x="938" y="109" width="5" height="6" fill="#0000ff"/>
<rect x="939" y="110" width="3" height="4" fill="#fff"/>
<rect x="940" y="103" width="1" height="6" fill="#0000ff"/>
<rect x="940" y="115" width="1" height="1" fill="#0000ff"/>
<rect x="945" y="86" width="5" height="23" fill="#0000ff"/>
<rect x="946" y="87" width="3" height="21" fill="#fff"/>
<rect x="947" y="84" width="1" height="2" fill="#0000ff"/>
<rect x="951" y="86" width="5" height="7" fill="#0000ff"/>
<rect x="953" y="81" width="1" height="5" fill="#0000ff"/>
<rect x="953" y="93" width="1" height="3" fill="#0000ff"/>
<rect x="958" y="92" width="5" height="33" fill="#0000ff"/>
<rect x="960" y="125" width="1" height="2" fill="#0000ff"/>
<rect x="965" y="122" width="5" height="5" fill="#0000ff"/>
<rect x="966" y="123" width="3" height="3" fill="#fff"/>
<rect x="967" y="105" width="1" height="17" fill="#0000ff"/>
<rect x="972" y="112" width="5" height="12" fill="#0000ff"/>
<rect x="973" y="113" width="3" height="10" fill="#fff"/>
<rect x="979" y="112" width="5" height="10" fill="#0000ff"/>
<rect x="981" y="122" width="1" height="1" fill="#0000ff"/>
<rect x="986" y="105" width="5" height="20" fill="#0000ff"/>
<rect x="987" y="106" width="3" height="18" fill="#fff"/>
<rect x="988" y="99" width="1" height="6" fill="#0000ff"/>
<rect x="993" y="106" width="5" height="2" fill="#0000ff"/>
<rect x="995" y="104" width="1" height="2" fill="#0000ff"/>
<rect x="995" y="108" width="1" height="4" fill="#0000ff"/>
<rect x="1000" y="100" width="5" height="8" fill="#0000ff"/>
<rect x="1001" y="101" width="3" height="6" fill="#fff"/>
<rect x="1002" y="99" width="1" height="1" fill="#0000ff"/>
<rect x="1002" y="108" width="1" height="4" fill="#0000ff"/>
<rect x="1007" y="99" width="5" height="7" fill="#0000ff"/>
<rect x="1009" y="98" width="1" height="1" fill="#0000ff"/>
<rect x="1009" y="106" width="1" height="1" fill="#0000ff"/>
<rect x="1014" y="106" width="5" height="2" fill="#0000ff"/>
<rect x="1016" y="108" width="1" height="4" fill="#0000ff"/>
<rect x="1020" y="106" width="5" height="2" fill="#0000ff"/>
<rect x="1022" y="104" width="1" height="2" fill="#0000ff"/>
<rect x="1022" y="108" width="1" height="2" fill="#0000ff"/>
<rect x="1027" y="98" width="5" height="9" fill="#0000ff"/>
<rect x="1028" y="99" width="3" height="7" fill="#fff"/>
<rect x="1034" y="89" width="5" height="10" fill="#0000ff"/>
<rect x="1035" y="90" width="3" height="8" fill="#fff"/>
<rect x="1036" y="99" width="1" height="1" fill="#0000ff"/>
<rect x="1041" y="83" width="5" height="9" fill="#0000ff"/>
<rect x="1042" y="84" width="3" height="7" fill="#fff"/>
<rect x="1043" y="92" width="1" height="2" fill="#0000ff"/>
<rect x="1048" y="83" width="5" height="1" fill="#0000ff"/>
<rect x="1050" y="84" width="1" height="3" fill="#0000ff"/>
<rect x="1055" y="84" width="5" height="31" fill="#0000ff"/>
<rect x="1057" y="115" width="1" height="3" fill="#0000ff"/>
<rect x="1062" y="108" width="5" height="9" fill="#0000ff"/>
<rect x="1063" y="109" width="3" height="7" fill="#fff"/>
<rect x="1064" y="101" width="1" height="7" fill="#0000ff"/>
<rect x="1064" y="117" width="1" height="11" fill="#0000ff"/>
<rect x="1069" y="109" width="5" height="3" fill="#0000ff"/>
<rect x="1071" y="104" width="1" height="5" fill="#0000ff"/>
<rect x="1071" y="112" width="1" height="2" fill="#0000ff"/>
<rect x="1076" y="103" width="5" height="7" fill="#0000ff"/>
<rect x="1077" y="104" width="3" height="5" fill="#fff"/>
<rect x="1078" y="102" width="1" height="1" fill="#0000ff"/>
<rect x="1078" y="110" width="1" height="6" fill="#0000ff"/>
<rect x="1083" y="103" width="5" height="3" fill="#0000ff"/>
<rect x="1085" y="102" width="1" height="1" fill="#0000ff"/>
<rect x="1085" y="106" width="1" height="5" fill="#0000ff"/>
<rect x="1089" y="106" width="5" height="1" fill="#0000ff"/>
<rect x="1091" y="101" width="1" height="5" fill="#0000ff"/>
<rect x="1091" y="107" width="1" height="11" fill="#0000ff"/>
<rect x="1091" y="30" width="69" height="1" fill="#0a64d8"/>
<rect x="940" y="80" width="214" height="1" fill="#0a64d8"/>
<rect x="960" y="128" width="194" height="1" fill="#0a64d8"/>
<rect x="1098" y="178" width="69" height="1" fill="#0a64d8"/>
<rect x="857" y="285" width="103" height="1" fill="#0a64d8"/>
<rect x="643" y="339" width="3" height="1" fill="#0a64d8"/>
<rect x="649" y="339" width="3" height="1" fill="#0a64d8"/>
<rect x="655" y="339" width="3" height="1" fill="#0a64d8"/>
<rect x="661" y="339" width="3" height="1" fill="#0a64d8"/>
<rect x="667" y="339" width="3" height="1" fill="#0a64d8"/>
<rect x="673" y="339" width="3" height="1" fill="#0a64d8"/>
<rect x="679" y="339" width="3" height="1" fill="#0a64d8"/>
<rect x="685" y="339" width="3" height="1" fill="#0a64d8"/>
<rect x="691" y="339" width="3" height="1" fill="#0a64d8"/>
<rect x="697" y="339" width="3" height="1" fill="#0a64d8"/>
<rect x="703" y="339" width="3" height="1" fill="#0a64d8"/>
<rect x="709" y="339" width="3" height="1" fill="#0a64d8"/>
<rect x="715" y="339" width="3" height="1" fill="#0a64d8"/>
<rect x="721" y="339" width="3" height="1" fill="#0a64d8"/>
<rect x="727" y="339" width="3" height="1" fill="#0a64d8"/>
<rect x="733" y="339" width="3" height="1" fill="#0a64d8"/>
<rect x="739" y="339" width="3" height="1" fill="#0a64d8"/>
<rect x="745" y="339" width="3" height="1" fill="#0a64d8"/>
<rect x="751" y="339" width="3" height="1" fill="#0a64d8"/>
<rect x="757" y="339" width="3" height="1" fill="#0a64d8"/>
<rect x="763" y="339" width="3" height="1" fill="#0a64d8"/>
<rect x="769" y="339" width="3" height="1" fill="#0a64d8"/>
<rect x="775" y="339" width="3" height="1" fill="#0a64d8"/>
<rect x="781" y="339" width="3" height="1" fill="#0a64d8"/>
<rect x="787" y="339" width="3" height="1" fill="#0a64d8"/>
<rect x="793" y="339" width="3" height="1" fill="#0a64d8"/>
<rect x="799" y="339" width="3" height="1" fill="#0a64d8"/>
<rect x="805" y="339" width="3" height="1" fill="#0a64d8"/>
<rect x="811" y="339" width="3" height="1" fill="#0a64d8"/>
<rect x="817" y="339" width="3" height="1" fill="#0a64d8"/>
<rect x="823" y="339" width="3" height="1" fill="#0a64d8"/>
<rect x="829" y="339" width="3" height="1" fill="#0a64d8"/>
<rect x="835" y="339" width="3" height="1" fill="#0a64d8"/>
<rect x="841" y="339" width="3" height="1" fill="#0a64d8"/>
<rect x="847" y="339" width="3" height="1" fill="#0a64d8"/>
<rect x="853" y="339" width="3" height="1" fill="#0a64d8"/>
<rect x="859" y="339" width="3" height="1" fill="#0a64d8"/>
<rect x="865" y="339" width="3" height="1" fill="#0a64d8"/>
<rect x="871" y="339" width="3" height="1" fill="#0a64d8"/>
<rect x="877" y="339" width="3" height="1" fill="#0a64d8"/>
<rect x="883" y="339" width="3" height="1" fill="#0a64d8"/>
<rect x="889" y="339" width="3" height="1" fill="#0a64d8"/>
<rect x="895" y="339" width="3" height="1" fill="#0a64d8"/>
<rect x="901" y="339" width="3" height="1" fill="#0a64d8"/>
<rect x="907" y="339" width="3" height="1" fill="#0a64d8"/>
<rect x="913" y="339" width="3" height="1" fill="#0a64d8"/>
<rect x="919" y="339" width="3" height="1" fill="#0a64d8"/>
<rect x="925" y="339" width="3" height="1" fill="#0a64d8"/>
<rect x="931" y="339" width="3" height="1" fill="#0a64d8"/>
<rect x="937" y="339" width="3" height="1" fill="#0a64d8"/>
<rect x="943" y="339" width="3" height="1" fill="#0a64d8"/>
<rect x="949" y="339" width="3" height="1" fill="#0a64d8"/>
<rect x="955" y="339" width="3" height="1" fill="#0a64d8"/>
<rect x="961" y="339" width="3" height="1" fill="#0a64d8"/>
<rect x="967" y="339" width="3" height="1" fill="#0a64d8"/>
<rect x="973" y="339" width="3" height="1" fill="#0a64d8"/>
<rect x="979" y="339" width="3" height="1" fill="#0a64d8"/>
<rect x="985" y="339" width="3" height="1" fill="#0a64d8"/>
<rect x="991" y="339" width="3" height="1" fill="#0a64d8"/>
<rect x="997" y="339" width="3" height="1" fill="#0a64d8"/>
<rect x="1003" y="339" width="3" height="1" fill="#0a64d8"/>
<rect x="1009" y="339" width="3" height="1" fill="#0a64d8"/>
<rect x="1015" y="339" width="3" height="1" fill="#0a64d8"/>
<rect x="1021" y="339" width="3" height="1" fill="#0a64d8"/>
<rect x="1027" y="339" width="3" height="1" fill="#0a64d8"/>
<rect x="1033" y="339" width="3" height="1" fill="#0a64d8"/>
<rect x="1039" y="339" width="3" height="1" fill="#0a64d8"/>
<rect x="1045" y="339" width="3" height="1" fill="#0a64d8"/>
<rect x="1051" y="339" width="3" height="1" fill="#0a64d8"/>
<rect x="1057" y="339" width="3" height="1" fill="#0a64d8"/>
<rect x="1063" y="339" width="3" height="1" fill="#0a64d8"/>
<rect x="1069" y="339" width="3" height="1" fill="#0a64d8"/>
<rect x="1075" y="339" width="3" height="1" fill="#0a64d8"/>
<rect x="1081" y="339" width="3" height="1" fill="#0a64d8"/>
<rect x="1087" y="339" width="3" height="1" fill="#0a64d8"/>
<rect x="1093" y="339" width="3" height="1" fill="#0a64d8"/>
<rect x="1099" y="339" width="3" height="1" fill="#0a64d8"/>
<rect x="1105" y="339" width="3" height="1" fill="#0a64d8"/>
<rect x="1111" y="339" width="3" height="1" fill="#0a64d8"/>
<rect x="1117" y="339" width="3" height="1" fill="#0a64d8"/>
<rect x="1123" y="339" width="3" height="1" fill="#0a64d8"/>
<rect x="1129" y="339" width="3" height="1" fill="#0a64d8"/>
<rect x="1135" y="339" width="3" height="1" fill="#0a64d8"/>
<rect x="1141" y="339" width="3" height="1" fill="#0a64d8"/>
<rect x="1147" y="339" width="3" height="1" fill="#0a64d8"/>
<rect x="1153" y="339" width="3" height="1" fill="#0a64d8"/>
<rect x="1159" y="339" width="3" height="1" fill="#0a64d8"/>
<rect x="1165" y="339" width="3" height="1" fill="#0a64d8"/>
<rect x="1171" y="339" width="3" height="1" fill="#0a64d8"/>
<rect x="1177" y="339" width="3" height="1" fill="#0a64d8"/>
<rect x="1183" y="339" width="3" height="1" fill="#0a64d8"/>
<rect x="1189" y="339" width="3" height="1" fill="#0a64d8"/>
<rect x="1195" y="339" width="3" height="1" fill="#0a64d8"/>
<rect x="1201" y="339" width="3" height="1" fill="#0a64d8"/>
<rect x="1207" y="339" width="3" height="1" fill="#0a64d8"/>
<rect x="1213" y="339" width="3" height="1" fill="#0a64d8"/>
<rect x="1219" y="339" width="3" height="1" fill="#0a64d8"/>
<rect x="1225" y="339" width="3" height="1" fill="#0a64d8"/>
<rect x="1105" y="31" width="1" height="3" fill="#ff0000"/>
<rect x="1105" y="37" width="1" height="3" fill="#ff0000"/>
<rect x="1105" y="43" width="1" height="3" fill="#ff0000"/>
<rect x="1105" y="49" width="1" height="3" fill="#ff0000"/>
<rect x="1105" y="55" width="1" height="3" fill="#ff0000"/>
<rect x="1105" y="61" width="1" height="3" fill="#ff0000"/>
<rect x="1105" y="67" width="1" height="3" fill="#ff0000"/>
<rect x="1105" y="73" width="1" height="3" fill="#ff0000"/>
<rect x="1105" y="130" width="1" height="3" fill="#ff0000"/>
<rect x="1105" y="136" width="1" height="3" fill="#ff0000"/>
<rect x="1105" y="142" width="1" height="3" fill="#ff0000"/>
<rect x="1105" y="148" width="1" height="3" fill="#ff0000"/>
<rect x="1105" y="154" width="1" height="3" fill="#ff0000"/>
<rect x="1105" y="160" width="1" height="3" fill="#ff0000"/>
<rect x="1105" y="166" width="1" height="3" fill="#ff0000"/>
<rect x="1105" y="172" width="1" height="3" fill="#ff0000"/>
<rect x="8" y="590" width="1083" height="1" fill="#0000ff"/>
<polyline points="8.2,640.5 19.6,634.0 39.1,628.4 56.7,623.5 70.4,621.3 86.0,621.5 97.8,620.3 111.5,617.6 125.1,611.1 136.9,605.3 150.6,598.8 160.3,592.0 168.2,584.8 176.0,579.5 182.8,577.9 189.7,580.3 197.5,583.2 205.3,589.2 215.1,599.4 224.9,610.2 234.6,619.9 242.5,626.4 254.2,632.7 262.0,635.0 270.0,636.3 283.7,641.6 305.2,647.5 318.9,652.6 334.5,653.6 354.1,653.0 367.8,655.9 375.6,657.9 385.4,654.9 395.1,652.0 406.9,644.2 418.6,634.4 430.3,621.7 440.1,607.0 449.9,591.4 459.7,576.7 471.4,561.6 481.2,554.2 491.9,550.3 504.6,554.2 518.3,566.0 530.1,578.7 540.0,587.7 549.8,599.0 561.5,607.2 575.2,614.4 586.9,619.5 598.7,621.5 610.4,619.9 622.1,614.1 631.9,607.2 641.7,600.4 651.5,590.6 661.2,575.9 671.0,562.2 680.8,547.6 690.6,532.9 704.3,520.2 717.9,512.4 731.6,505.9 745.3,502.0 755.1,499.3 768.8,498.3 782.5,498.7 796.2,500.6 807.9,504.0 810.0,504.9 824.2,509.7 840.9,511.3 857.5,512.1 869.4,515.1 878.9,518.7 890.7,529.9 905.0,535.8 916.8,536.5 928.7,534.6 940.6,529.9 952.5,520.4 964.3,514.0 976.2,512.1 990.4,510.9 1007.1,511.6 1018.9,514.4 1030.8,518.0 1047.4,519.2 1059.3,522.7 1071.2,528.7 1083.0,533.4 1090.9,537.7" fill="none" stroke="#000" stroke-width="1" stroke-linejoin="round" stroke-dasharray="1 1"/>
<polyline points="8.2,623.1 15.6,620.9 42.0,620.7 50.8,618.0 58.7,616.0 64.5,616.4 73.3,619.4 82.1,622.7 90.0,622.7 97.8,616.0 103.6,612.5 111.5,608.2 119.3,603.9 126.1,600.8 133.9,593.0 144.7,589.1 152.5,581.8 160.3,572.0 168.2,562.3 174.4,558.0 181.9,572.0 187.7,582.8 193.6,590.6 201.4,603.3 209.2,619.0 215.1,629.7 220.0,635.6 230.7,645.8 235.6,647.9 248.3,647.9 256.2,646.0 262.0,641.5 265.9,640.1 270.8,641.5 277.8,647.1 285.6,652.0 293.5,653.0 309.1,657.5 318.9,660.8 328.7,656.9 340.4,653.0 354.1,652.0 361.9,657.5 367.8,661.2 374.6,662.7 381.5,655.9 388.3,645.7 395.1,641.6 403.0,630.5 409.8,621.3 415.7,618.4 421.5,602.1 430.3,590.4 436.2,576.7 443.1,560.1 451.9,546.4 461.6,534.7 471.4,527.4 481.2,532.7 491.9,541.1 500.7,559.1 510.5,575.3 518.3,591.4 526.2,603.1 535.9,612.5 540.0,615.6 546.8,621.9 557.6,624.8 566.4,625.2 575.2,629.1 582.0,630.1 594.8,629.7 601.6,622.9 608.4,618.9 616.3,604.3 623.1,595.5 629.9,591.6 636.8,584.7 643.6,580.2 649.5,556.4 657.3,547.2 665.1,532.9 673.0,525.1 684.7,498.7 691.5,495.8 699.4,494.8 706.2,498.1 718.9,497.7 727.7,495.2 743.4,493.2 749.2,493.2 754.1,495.8 766.8,496.1 774.6,499.3 782.5,500.6 794.2,504.6 804.0,509.8 810.0,512.5 817.1,514.9 829.0,516.8 838.5,514.0 848.0,513.2 861.0,516.3 869.4,522.7 878.9,528.7 883.6,542.9 890.7,549.6 899.0,546.5 905.0,546.5 914.5,538.9 926.3,533.4 933.5,523.9 941.8,514.4 947.7,504.9 953.2,499.0 959.6,500.9 967.9,505.4 973.8,506.1 981.0,510.2 988.1,510.2 994.0,512.1 1002.3,512.1 1011.8,516.8 1024.9,522.7 1041.5,522.7 1045.0,521.5 1049.8,522.3 1059.3,532.2 1071.2,542.2 1083.0,547.2 1090.9,551.7" fill="none" stroke="#ff0000" stroke-width="2.2" stroke-linejoin="round" />
<line x1="947" y1="493" x2="1134" y2="536" stroke="#0060d8" stroke-width="2.2"/>
</g>
<g>
<text x="3.3" y="12" class="s" textLength="117.7" lengthAdjust="spacingAndGlyphs" fill="#0000ff">.IBEX - IBEX 35 INDEX -</text>
<text x="126.5" y="12" class="s" textLength="23.3" lengthAdjust="spacingAndGlyphs" fill="#0000ff">15 m</text>
<text x="154.0" y="12" class="s" textLength="28.9" lengthAdjust="spacingAndGlyphs" fill="#0000ff">Dif. %:</text>
<text x="187.2" y="12" class="s" textLength="21.1" lengthAdjust="spacingAndGlyphs" fill="#0000ff">0,75</text>
<text x="213.4" y="12" class="s" textLength="18.4" lengthAdjust="spacingAndGlyphs" fill="#0000ff">Dif.:</text>
<text x="235.2" y="12" class="s" textLength="21.8" lengthAdjust="spacingAndGlyphs" fill="#0000ff">64,7</text>
<text x="261.5" y="12" class="s" textLength="10" lengthAdjust="spacingAndGlyphs" fill="#0000ff">M:</text>
<text x="276.1" y="12" class="s" textLength="36.8" lengthAdjust="spacingAndGlyphs" fill="#0000ff">8.665,9</text>
<text x="317.3" y="12" class="s" textLength="10" lengthAdjust="spacingAndGlyphs" fill="#0000ff">m:</text>
<text x="331.4" y="12" class="s" textLength="36.1" lengthAdjust="spacingAndGlyphs" fill="#0000ff">8.509,8</text>
<text x="372.3" y="12" class="s" textLength="8.7" lengthAdjust="spacingAndGlyphs" fill="#0000ff">F:</text>
<text x="384.3" y="12" class="s" textLength="54.4" lengthAdjust="spacingAndGlyphs" fill="#0000ff">24-08-2016</text>
<text x="442.7" y="12" class="s" textLength="52.1" lengthAdjust="spacingAndGlyphs" fill="#ff0000">P : 8.612,1</text>
<text x="3.2" y="479" class="s" textLength="64.3" lengthAdjust="spacingAndGlyphs" fill="#ff0000">MACD_.IBEX</text>
<text x="72.3" y="479" class="s" textLength="33.6" lengthAdjust="spacingAndGlyphs" fill="#ff0000">MACD:</text>
<text x="109.5" y="479" class="s" textLength="38.5" lengthAdjust="spacingAndGlyphs" fill="#0000ff">10,0971</text>
<text x="153.1" y="479" class="s" textLength="50.2" lengthAdjust="spacingAndGlyphs" fill="#000">MediaSIG:</text>
<text x="206.0" y="479" class="s" textLength="39.4" lengthAdjust="spacingAndGlyphs" fill="#0000ff">13,7163</text>
<text x="249.9" y="479" class="s" textLength="64.6" lengthAdjust="spacingAndGlyphs" fill="#0000ff">Band_MACD:</text>
<text x="318.4" y="479" class="s" textLength="33.3" lengthAdjust="spacingAndGlyphs" fill="#0000ff">0,0000</text>
<text x="355.9" y="479" class="s" textLength="10.2" lengthAdjust="spacingAndGlyphs" fill="#ff0000">P:</text>
<text x="369.1" y="479" class="s" textLength="45.5" lengthAdjust="spacingAndGlyphs" fill="#ff0000">115,4060</text>
<text x="2.7" y="690" class="s" textLength="48.8" lengthAdjust="spacingAndGlyphs" fill="#0000ff">Vol_.IBEX</text>
<text x="55.2" y="690" class="s" textLength="19" lengthAdjust="spacingAndGlyphs" fill="#0000ff">Vol:</text>
<text x="77.0" y="690" class="s" textLength="27.6" lengthAdjust="spacingAndGlyphs" fill="#0000ff">2.813</text>
<text x="109.3" y="690" class="s" textLength="7.6" lengthAdjust="spacingAndGlyphs" fill="#ff0000">P:</text>
<text x="122.3" y="690" class="s" textLength="33.3" lengthAdjust="spacingAndGlyphs" fill="#ff0000">45.935</text>
<text x="1373" y="40" class="a" textLength="26" lengthAdjust="spacingAndGlyphs">8.700</text>
<text x="1373" y="106" class="a" textLength="26" lengthAdjust="spacingAndGlyphs">8.650</text>
<text x="1373" y="172" class="a" textLength="26" lengthAdjust="spacingAndGlyphs">8.600</text>
<text x="1373" y="238" class="a" textLength="26" lengthAdjust="spacingAndGlyphs">8.550</text>
<text x="1373" y="304" class="a" textLength="26" lengthAdjust="spacingAndGlyphs">8.500</text>
<text x="1373" y="370" class="a" textLength="26" lengthAdjust="spacingAndGlyphs">8.450</text>
<text x="1373" y="436" class="a" textLength="26" lengthAdjust="spacingAndGlyphs">8.400</text>
<text x="1373" y="519" class="a" textLength="11.5" lengthAdjust="spacingAndGlyphs">20</text>
<text x="1373" y="557" class="a" textLength="11.5" lengthAdjust="spacingAndGlyphs">10</text>
<text x="1373" y="595" class="a" textLength="5.5" lengthAdjust="spacingAndGlyphs">0</text>
<text x="1373" y="633" class="a" textLength="15.5" lengthAdjust="spacingAndGlyphs">-10</text>
<text x="1373" y="671" class="a" textLength="15.5" lengthAdjust="spacingAndGlyphs">-20</text>
<text x="1373" y="698" class="a" textLength="32.5" lengthAdjust="spacingAndGlyphs" clip-path="url(#cv)">10.000</text>
<text x="1373" y="728" class="a" textLength="26" lengthAdjust="spacingAndGlyphs">8.000</text>
<text x="1373" y="758" class="a" textLength="26" lengthAdjust="spacingAndGlyphs">6.000</text>
<text x="1373" y="788" class="a" textLength="26" lengthAdjust="spacingAndGlyphs">4.000</text>
<text x="1373" y="818" class="a" textLength="26" lengthAdjust="spacingAndGlyphs">2.000</text>
<text x="31.5" y="854.6" class="b" textLength="34.4" lengthAdjust="spacing">12:00</text>
<text x="142.5" y="854.6" class="b" textLength="34.4" lengthAdjust="spacing">16:00</text>
<text x="266.5" y="854.6" class="b" textLength="34.4" lengthAdjust="spacing">12:00</text>
<text x="376.5" y="854.6" class="b" textLength="34.4" lengthAdjust="spacing">16:00</text>
<text x="500.5" y="854.6" class="b" textLength="34.4" lengthAdjust="spacing">12:00</text>
<text x="611.5" y="854.6" class="b" textLength="34.4" lengthAdjust="spacing">16:00</text>
<text x="735.5" y="854.6" class="b" textLength="34.4" lengthAdjust="spacing">12:00</text>
<text x="845.5" y="854.6" class="b" textLength="34.4" lengthAdjust="spacing">16:00</text>
<text x="969.5" y="854.6" class="b" textLength="34.4" lengthAdjust="spacing">12:00</text>
<text x="1080.5" y="854.6" class="b" textLength="34.4" lengthAdjust="spacing">16:00</text>
<text x="1204.5" y="854.6" class="b" textLength="34.4" lengthAdjust="spacing">12:00</text>
<text x="1314.5" y="854.6" class="b" textLength="34.4" lengthAdjust="spacing">16:00</text>
<text x="183.6" y="833.7" class="b" textLength="64.3" lengthAdjust="spacing">19-Ago-16</text>
<text x="418.2" y="833.7" class="b" textLength="64.3" lengthAdjust="spacing">22-Ago-16</text>
<text x="652.7" y="833.7" class="b" textLength="64.3" lengthAdjust="spacing">23-Ago-16</text>
<text x="887.2" y="833.7" class="b" textLength="64.3" lengthAdjust="spacing">24-Ago-16</text>
<text x="1121.8" y="833.7" class="b" textLength="64.3" lengthAdjust="spacing">25-Ago-16</text>
<text x="1160.7" y="32" class="r" textLength="34.5" lengthAdjust="spacing">8.700</text>
<text x="1160.7" y="83" class="r" textLength="34.5" lengthAdjust="spacing">8.665</text>
<text x="1160.7" y="130" class="r" textLength="34.5" lengthAdjust="spacing">8.630</text>
<text x="1167.7" y="180" class="r" textLength="34.5" lengthAdjust="spacing">8.595</text>
<text x="926.7" y="280" class="r" textLength="34.5" lengthAdjust="spacing">8.510</text>
<text x="1229.7" y="341" class="r" textLength="34.5" lengthAdjust="spacing">8.468</text>
<text x="75.4" y="456" class="w" textLength="170" lengthAdjust="spacingAndGlyphs">www.visualchart.com</text>
</g>
</svg>
</body></html>
